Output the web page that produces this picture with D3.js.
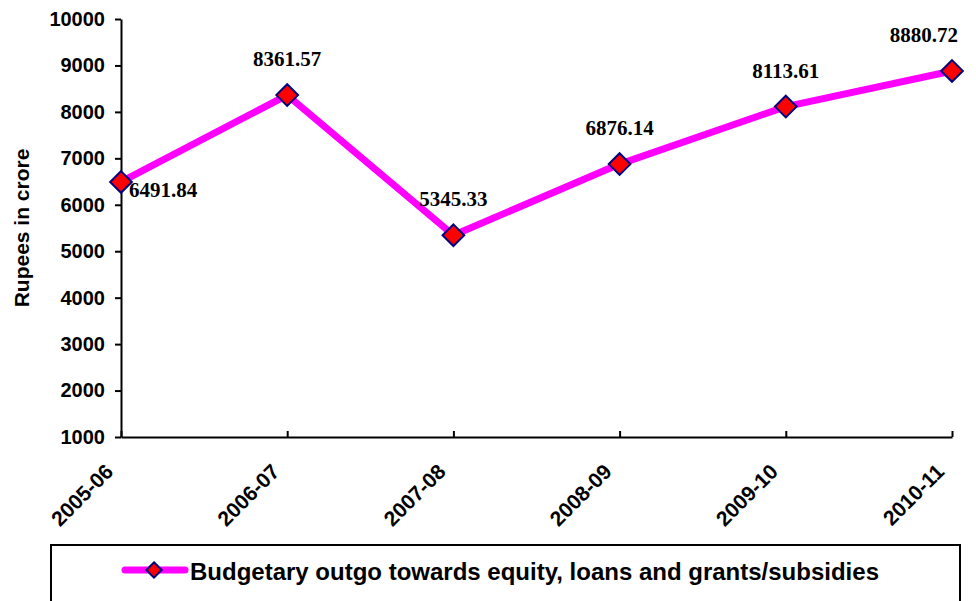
<!DOCTYPE html>
<html lang="en">
<head>
    <meta charset="UTF-8">
    <title>Budgetary outgo</title>
    <style>
        body {
            margin: 0;
            background: #fff;
        }
        svg text {
            font-family: Arial, "Liberation Sans", sans-serif;
            font-weight: bold;
        }
        .axis path, .axis line {
            stroke: #000;
            stroke-width: 2px;
        }
        .axis text {
            font-size: 20px;
            fill: #000;
        }
        .x-axis text {
            font-size: 21px;
        }
        .data-label {
            font-family: "Times New Roman", "Liberation Serif", serif !important;
            font-size: 21px;
            fill: #000;
        }
    </style>
</head>
<body>
    <div id="chart"></div>
    <script src="https://d3js.org/d3.v7.min.js"></script>
    <script>
        // Chart data
        const years = ["2005-06", "2006-07", "2007-08", "2008-09", "2009-10", "2010-11"];
        const outgo = [6491.84, 8361.57, 5345.33, 6876.14, 8113.61, 8880.72];
        const yTicks = [1000, 2000, 3000, 4000, 5000, 6000, 7000, 8000, 9000, 10000];
        const seriesName = "Budgetary outgo towards equity, loans and grants/subsidies";

        const width = 976, height = 601;
        const plot = { left: 121, right: 952, top: 19, bottom: 437 };

        const svg = d3.select("#chart").append("svg")
            .attr("width", width)
            .attr("height", height);

        const x = d3.scalePoint().domain(years).range([plot.left, plot.right]);
        const y = d3.scaleLinear().domain([1000, 10000]).range([plot.bottom, plot.top]);

        // Y axis
        svg.append("g")
            .attr("class", "axis")
            .attr("transform", "translate(" + plot.left + ",0)")
            .call(d3.axisLeft(y).tickValues(yTicks).tickFormat(d3.format("d"))
                .tickSizeInner(6).tickSizeOuter(0).tickPadding(10));

        // X axis, ticks point up into the plot
        const xAxis = svg.append("g")
            .attr("class", "axis x-axis")
            .attr("transform", "translate(0," + plot.bottom + ")")
            .call(d3.axisBottom(x).tickSizeInner(-6).tickSizeOuter(0));

        xAxis.selectAll("text")
            .attr("text-anchor", "end")
            .attr("dy", null)
            .attr("y", null)
            .attr("transform", "translate(-7,36) rotate(-45)");

        // Y axis title
        svg.append("text")
            .attr("transform", "translate(29,228) rotate(-90)")
            .attr("text-anchor", "middle")
            .style("font-size", "21px")
            .text("Rupees in crore");

        // Line
        const pts = years.map((d, i) => ({ year: d, value: outgo[i] }));

        svg.append("path")
            .datum(pts)
            .attr("fill", "none")
            .attr("stroke", "#ff00ff")
            .attr("stroke-width", 7)
            .attr("stroke-linejoin", "round")
            .attr("d", d3.line().x(d => x(d.year)).y(d => y(d.value)));

        const diamond = d3.symbol().type(d3.symbolDiamond2).size(300);

        svg.selectAll(".marker")
            .data(pts)
            .enter().append("path")
            .attr("class", "marker")
            .attr("d", diamond)
            .attr("transform", d => "translate(" + x(d.year) + "," + y(d.value) + ")")
            .attr("fill", "#ff0000")
            .attr("stroke", "#000080")
            .attr("stroke-width", 2);

        // Data labels: first one sits right-below, others above
        const labels = svg.selectAll(".data-label")
            .data(pts)
            .enter().append("text")
            .attr("class", "data-label")
            .text(d => d3.format(".2f")(d.value));

        labels.each(function (d, i) {
            const t = d3.select(this);
            const px = x(d.year), py = y(d.value);
            if (i === 0) {
                t.attr("x", px + 8).attr("y", py + 15).attr("text-anchor", "start");
            } else {
                const w = this.getComputedTextLength();
                const cx = Math.min(px, 958 - w / 2);
                t.attr("x", cx).attr("y", py - 29).attr("text-anchor", "middle");
            }
        });

        // Legend
        const legend = svg.append("g");
        legend.append("rect")
            .attr("x", 51).attr("y", 545)
            .attr("width", 909).attr("height", 80)
            .attr("fill", "#fff")
            .attr("stroke", "#000")
            .attr("stroke-width", 2);
        legend.append("line")
            .attr("x1", 125).attr("x2", 185)
            .attr("y1", 570).attr("y2", 570)
            .attr("stroke", "#ff00ff")
            .attr("stroke-width", 7)
            .attr("stroke-linecap", "round");
        legend.append("path")
            .attr("d", d3.symbol().type(d3.symbolDiamond2).size(150))
            .attr("transform", "translate(154,570)")
            .attr("fill", "#ff0000")
            .attr("stroke", "#000080")
            .attr("stroke-width", 2);
        legend.append("text")
            .attr("x", 190).attr("y", 580)
            .style("font-size", "24px")
            .text(seriesName);
    </script>
</body>
</html>
